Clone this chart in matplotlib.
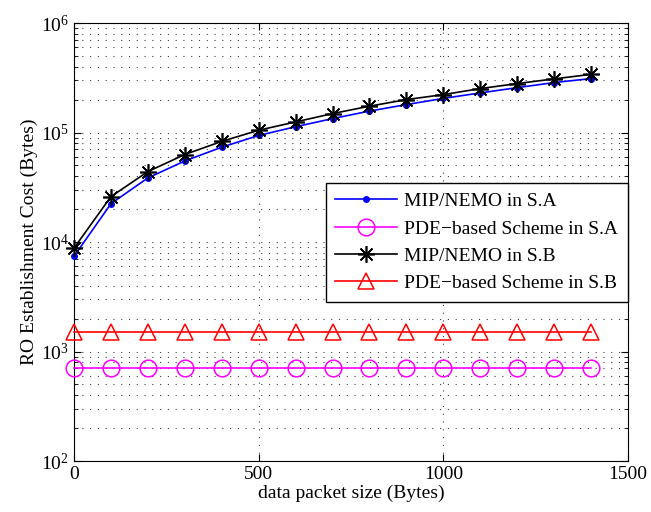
import matplotlib
matplotlib.use('Agg')
import matplotlib.pyplot as plt
from matplotlib.ticker import LogLocator, FixedLocator

# data
packet_size = [0, 100, 200, 300, 400, 500, 600, 700, 800, 900, 1000, 1100, 1200, 1300, 1400]
mip_sa = [7400, 22400, 38500, 55000, 73500, 94000, 113000, 134000, 157000, 180000, 205000, 230000, 257000, 286000, 311000]
pde_sa = [700] * 15
mip_sb = [8800, 26000, 44000, 63000, 83000, 105000, 125000, 149000, 174000, 200000, 222000, 252000, 280000, 309000, 340000]
pde_sb = [1520] * 15

plt.rcParams['font.family'] = ['Liberation Serif', 'DejaVu Serif']
plt.rcParams['mathtext.fontset'] = 'stix'
plt.rcParams['font.size'] = 14

fig = plt.figure(figsize=(6.51, 5.12), dpi=100)
ax = fig.add_axes([0.1137, 0.0996, 0.851, 0.8554])

ax.plot(packet_size, mip_sa, color='blue', marker='.', markersize=8, lw=1.2, clip_on=False,
        label='MIP/NEMO in S.A', zorder=3)
ax.plot(packet_size, pde_sa, color='magenta', marker='o', markersize=12, mfc='none', mew=1.1, lw=1.2,
        clip_on=False, label='PDE\u2212based Scheme in S.A', zorder=3)
ax.plot(packet_size, mip_sb, color='black', marker=(8, 2, 0), markersize=12, mew=1.2, lw=1.2,
        clip_on=False, label='MIP/NEMO in S.B', zorder=3)
ax.plot(packet_size, pde_sb, color='red', marker='^', markersize=12, mfc='none', mew=1.1, lw=1.2,
        clip_on=False, label='PDE\u2212based Scheme in S.B', zorder=3)

ax.set_yscale('log')
ax.set_xlim(0, 1500)
ax.set_ylim(1e2, 1e6)
ax.xaxis.set_major_locator(FixedLocator([0, 500, 1000, 1500]))
ax.yaxis.set_minor_locator(LogLocator(base=10, subs=range(2, 10)))

gridstyle = dict(linestyle=(0, (1, 6)), color='black', lw=0.8, alpha=0.75)
ax.grid(True, which='major', **gridstyle)
ax.grid(True, which='minor', axis='y', **gridstyle)

ax.tick_params(which='both', direction='in', top=True, right=True)
ax.tick_params(which='major', length=5)
ax.tick_params(which='minor', length=3)

ax.set_xlabel('data packet size (Bytes)', labelpad=1)
ax.set_ylabel('RO Establishment Cost (Bytes)', labelpad=2)

leg = ax.legend(loc='upper right', bbox_to_anchor=(1.0, 0.635), fancybox=False, edgecolor='black',
                framealpha=1, borderaxespad=0, handlelength=3.2, handletextpad=0.35,
                labelspacing=0.5, borderpad=0.5)
leg.get_frame().set_linewidth(1.0)

fig.savefig('out.png', dpi=100)
